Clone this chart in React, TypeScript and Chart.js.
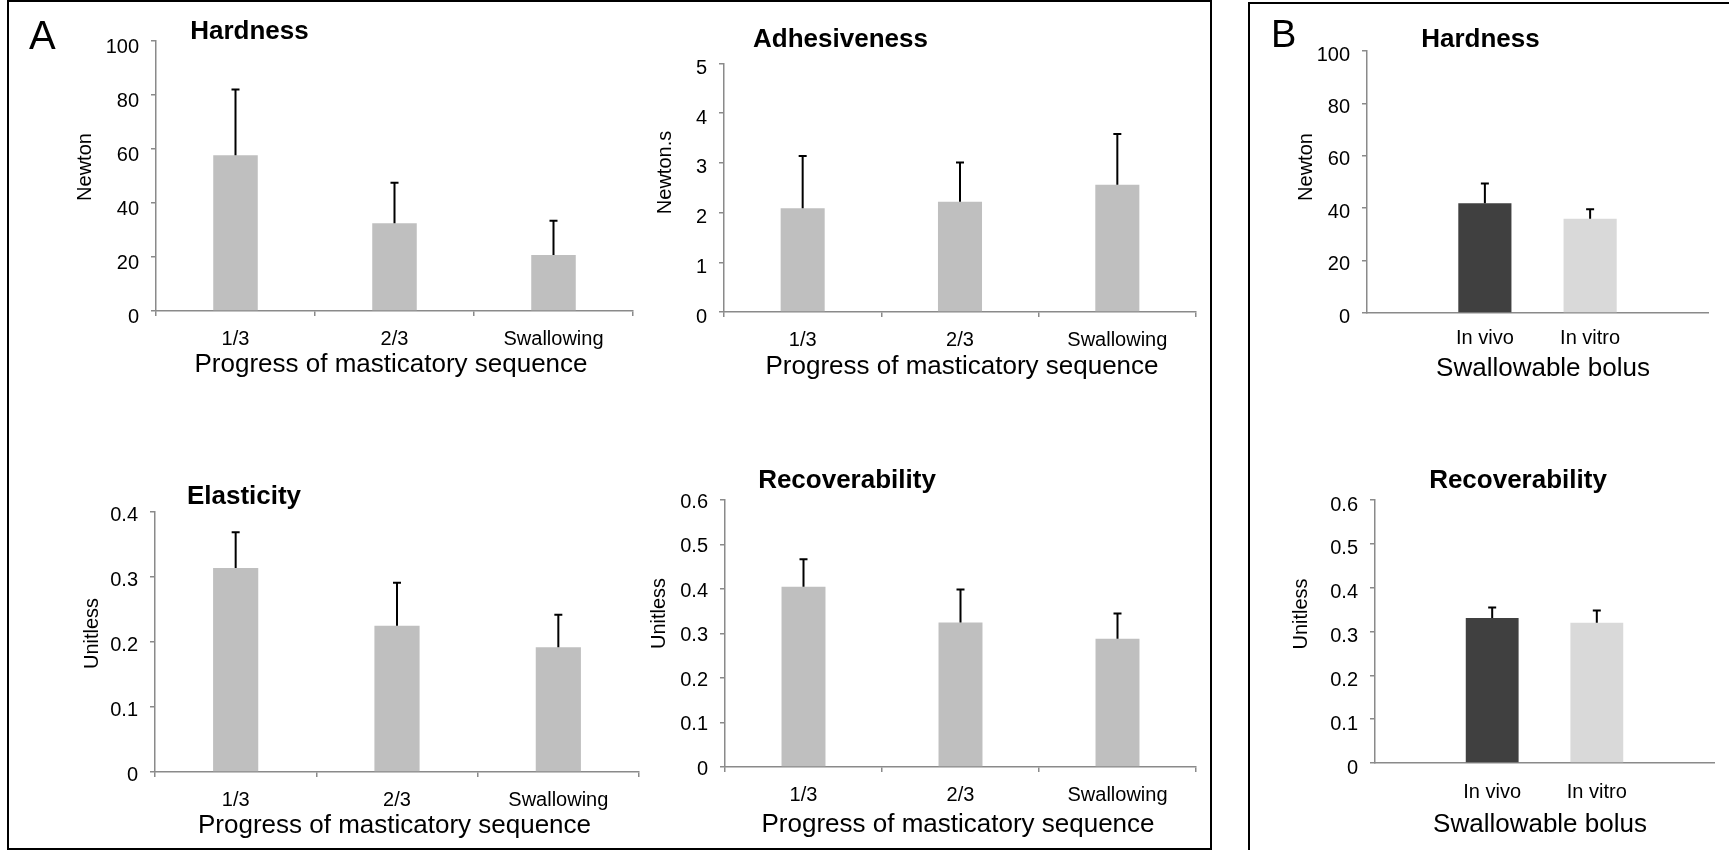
import React, { useEffect, useRef } from 'react';
import { Chart, registerables } from 'chart.js';

Chart.register(...registerables);

// ---------- data ----------
const progressLabels = ['1/3', '2/3', 'Swallowing'];
const hardnessMeans = [57.7, 32.5, 20.7];
const hardnessErrors = [24.3, 15.0, 12.7];
const adhesivenessMeans = [2.09, 2.22, 2.56];
const adhesivenessErrors = [1.05, 0.79, 1.02];
const elasticityMeans = [0.314, 0.225, 0.192];
const elasticityErrors = [0.055, 0.066, 0.05];
const recoverabilityMeans = [0.405, 0.325, 0.288];
const recoverabilityErrors = [0.062, 0.074, 0.057];

const bolusLabels = ['In vivo', 'In vitro'];
const bolusHardnessMeans = [41.9, 36.0];
const bolusHardnessErrors = [7.5, 3.6];
const bolusRecoverabilityMeans = [0.331, 0.32];
const bolusRecoverabilityErrors = [0.024, 0.028];

// ---------- styling ----------
const W = 1729;
const H = 850;
const FAMILY = "'Liberation Sans', Arial, Helvetica, sans-serif";
const AXIS = '#8a8a8a';
const BAR_A = '#bfbfbf';
const BAR_VIVO = '#404040';
const BAR_VITRO = '#d9d9d9';

type TextItem = { text: string; x: number; y: number; font: string; align?: CanvasTextAlign; rotate?: number };

const errorBarPlugin = {
  id: 'errorBars',
  afterDatasetsDraw(chart: any) {
    const ctx = chart.ctx;
    const yScale = chart.scales.y;
    chart.data.datasets.forEach((ds: any, di: number) => {
      const errs = ds.errors;
      if (!errs) return;
      const meta = chart.getDatasetMeta(di);
      meta.data.forEach((el: any, i: number) => {
        const raw = ds.data[i];
        const v = typeof raw === 'number' ? raw : raw.y;
        const top = yScale.getPixelForValue(v + errs[i]);
        ctx.save();
        ctx.strokeStyle = '#000';
        ctx.lineWidth = 2;
        ctx.beginPath();
        ctx.moveTo(el.x, el.y);
        ctx.lineTo(el.x, top);
        ctx.moveTo(el.x - 4, top);
        ctx.lineTo(el.x + 4, top);
        ctx.stroke();
        ctx.restore();
      });
    });
  },
};

function makeTextPlugin(items: TextItem[]) {
  return {
    id: 'panelTexts',
    afterDraw(chart: any) {
      const ctx = chart.ctx;
      items.forEach((it) => {
        ctx.save();
        ctx.font = it.font;
        ctx.fillStyle = '#000';
        ctx.textAlign = it.align || 'center';
        ctx.textBaseline = 'alphabetic';
        ctx.translate(it.x, it.y);
        if (it.rotate) ctx.rotate(it.rotate);
        ctx.fillText(it.text, 0, 0);
        ctx.restore();
      });
    },
  };
}

type Area = { left: number; top: number; right: number; bottom: number };

function yScaleOpts(area: Area, max: number, step: number, labelOffset: number) {
  return {
    min: 0,
    max,
    ticks: {
      stepSize: step,
      color: '#000',
      font: { family: FAMILY, size: 20 },
      padding: 12,
      labelOffset,
    },
    grid: { display: true, drawOnChartArea: false, drawTicks: true, tickLength: 5, color: AXIS, lineWidth: 1.5 },
    border: { display: true, color: AXIS, width: 1.5 },
    afterFit: (s: any) => {
      s.width = area.left;
    },
  };
}

function baseOptions(area: Area) {
  return {
    responsive: false,
    animation: false,
    events: [],
    devicePixelRatio: 1,
    layout: { padding: { left: 0, top: area.top, right: W - area.right, bottom: 0 } },
    plugins: { legend: { display: false }, tooltip: { enabled: false }, title: { display: false } },
  };
}

function progressChart(
  area: Area,
  means: number[],
  errors: number[],
  max: number,
  step: number,
  labelOffset: number,
  texts: TextItem[]
) {
  return {
    type: 'bar',
    data: {
      labels: progressLabels,
      datasets: [
        {
          data: means,
          errors,
          backgroundColor: BAR_A,
          borderWidth: 0,
          barPercentage: 0.28,
          categoryPercentage: 1,
        },
      ],
    },
    options: {
      ...baseOptions(area),
      scales: {
        x: {
          type: 'category',
          offset: true,
          grid: { display: true, drawOnChartArea: false, drawTicks: true, tickLength: 5, color: AXIS, lineWidth: 1.5, offset: true },
          border: { display: true, color: AXIS, width: 1.5 },
          ticks: { color: '#000', font: { family: FAMILY, size: 20 }, padding: 11, maxRotation: 0, autoSkip: false },
          afterFit: (s: any) => {
            s.height = H - area.bottom;
          },
        },
        y: yScaleOpts(area, max, step, labelOffset),
      },
    },
    plugins: [errorBarPlugin, makeTextPlugin(texts)],
  };
}

function bolusChart(
  area: Area,
  means: number[],
  errors: number[],
  max: number,
  step: number,
  labelOffset: number,
  tickPadding: number,
  texts: TextItem[]
) {
  return {
    type: 'bar',
    data: {
      datasets: [
        {
          data: means.map((v, i) => ({ x: i, y: v })),
          errors,
          backgroundColor: [BAR_VIVO, BAR_VITRO],
          borderWidth: 0,
          barPercentage: 0.505,
          categoryPercentage: 1,
        },
      ],
    },
    options: {
      ...baseOptions(area),
      scales: {
        x: {
          type: 'linear',
          offset: false,
          min: -1.12,
          max: 2.12,
          afterBuildTicks: (s: any) => {
            s.ticks = bolusLabels.map((_, i) => ({ value: i }));
          },
          grid: { display: false, drawTicks: false },
          border: { display: true, color: AXIS, width: 1.5 },
          ticks: {
            color: '#000',
            font: { family: FAMILY, size: 20 },
            padding: tickPadding,
            maxRotation: 0,
            autoSkip: false,
            callback: (v: any) => bolusLabels[Math.round(Number(v))] ?? '',
          },
          afterFit: (s: any) => {
            s.height = H - area.bottom;
          },
        },
        y: yScaleOpts(area, max, step, labelOffset),
      },
    },
    plugins: [errorBarPlugin, makeTextPlugin(texts)],
  };
}

const TITLE = `bold 26px ${FAMILY}`;
const AXT = `26px ${FAMILY}`;
const YT = `20px ${FAMILY}`;
const UP = -Math.PI / 2;
const XTITLE_A = 'Progress of masticatory sequence';
const XTITLE_B = 'Swallowable bolus';

const configs = [
  progressChart({ left: 156, top: 41, right: 633, bottom: 311 }, hardnessMeans, hardnessErrors, 100, 20, 6, [
    { text: 'A', x: 29, y: 49, font: `40px ${FAMILY}`, align: 'left' },
    { text: 'Hardness', x: 249.5, y: 39, font: TITLE },
    { text: 'Newton', x: 91, y: 167, font: YT, rotate: UP },
    { text: XTITLE_A, x: 391, y: 372, font: AXT },
  ]),
  progressChart({ left: 724, top: 63.5, right: 1196, bottom: 312 }, adhesivenessMeans, adhesivenessErrors, 5, 1, 5, [
    { text: 'Adhesiveness', x: 840.5, y: 46.5, font: TITLE },
    { text: 'Newton.s', x: 671, y: 172.5, font: YT, rotate: UP },
    { text: XTITLE_A, x: 962, y: 374, font: AXT },
  ]),
  progressChart({ left: 155, top: 512, right: 639, bottom: 772 }, elasticityMeans, elasticityErrors, 0.4, 0.1, 3, [
    { text: 'Elasticity', x: 244, y: 504, font: TITLE },
    { text: 'Unitless', x: 98, y: 633.5, font: YT, rotate: UP },
    { text: XTITLE_A, x: 394.5, y: 833, font: AXT },
  ]),
  progressChart({ left: 725, top: 500, right: 1196, bottom: 767 }, recoverabilityMeans, recoverabilityErrors, 0.6, 0.1, 2, [
    { text: 'Recoverability', x: 847, y: 488, font: TITLE },
    { text: 'Unitless', x: 665, y: 613.5, font: YT, rotate: UP },
    { text: XTITLE_A, x: 958, y: 832, font: AXT },
  ]),
  bolusChart({ left: 1367, top: 51, right: 1708, bottom: 313 }, bolusHardnessMeans, bolusHardnessErrors, 100, 20, 4, 13, [
    { text: 'B', x: 1271, y: 47, font: `38px ${FAMILY}`, align: 'left' },
    { text: 'Hardness', x: 1480.5, y: 46.5, font: TITLE },
    { text: 'Newton', x: 1312, y: 167, font: YT, rotate: UP },
    { text: XTITLE_B, x: 1543, y: 376, font: AXT },
  ]),
  bolusChart(
    { left: 1375, top: 500, right: 1714, bottom: 763 },
    bolusRecoverabilityMeans,
    bolusRecoverabilityErrors,
    0.6,
    0.1,
    5,
    17,
    [
      { text: 'Recoverability', x: 1518, y: 488, font: TITLE },
      { text: 'Unitless', x: 1307, y: 614, font: YT, rotate: UP },
      { text: XTITLE_B, x: 1540, y: 832, font: AXT },
    ]
  ),
];

function ChartLayer({ config }: { config: any }) {
  const ref = useRef<HTMLCanvasElement | null>(null);
  useEffect(() => {
    if (!ref.current) return;
    const chart = new Chart(ref.current, config);
    return () => chart.destroy();
  }, [config]);
  return (
    <canvas
      ref={ref}
      width={W}
      height={H}
      style={{ position: 'absolute', left: 0, top: 0, width: W, height: H }}
    />
  );
}

export default function App() {
  return (
    <div
      style={{
        position: 'absolute',
        left: 0,
        top: 0,
        width: W,
        height: H,
        background: '#fff',
        overflow: 'hidden',
      }}
    >
      <div
        style={{
          position: 'absolute',
          left: 7,
          top: 0,
          width: 1205,
          height: 850,
          border: '2px solid #000',
          boxSizing: 'border-box',
        }}
      />
      <div
        style={{
          position: 'absolute',
          left: 1248,
          top: 2,
          width: W - 1248,
          height: 848,
          borderLeft: '2px solid #000',
          borderTop: '2px solid #000',
          boxSizing: 'border-box',
        }}
      />
      {configs.map((c, i) => (
        <ChartLayer key={i} config={c} />
      ))}
    </div>
  );
}
